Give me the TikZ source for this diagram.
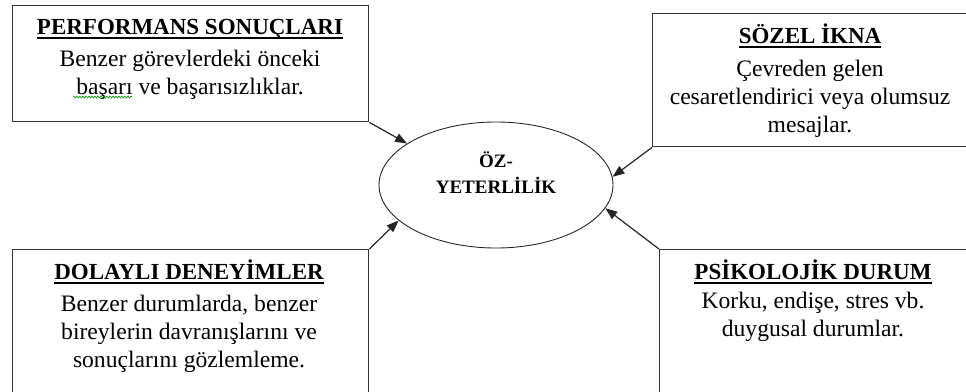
\documentclass[tikz,border=0pt]{standalone}
\usepackage{fontspec}
\setmainfont{Liberation Serif}
\usetikzlibrary{shapes.geometric,arrows.meta,decorations.pathmorphing}
\begin{document}
\begin{tikzpicture}[x=1pt,y=-1pt,
  panel/.style={draw=black!80,line width=1.4pt,anchor=north west,inner sep=0pt},
  heading/.style={font=\fontsize{23}{26}\selectfont\bfseries,inner sep=0pt,anchor=base},
  body/.style={font=\fontsize{23.6}{28}\selectfont,inner sep=0pt,anchor=base,align=center},
  core/.style={ellipse,draw=black!85,line width=0.9pt,minimum width=234pt,minimum height=126pt,inner sep=0pt},
  coretext/.style={font=\fontsize{19}{26}\selectfont\bfseries,inner sep=0pt,anchor=base,align=center},
  feed/.style={-{Triangle[length=12pt,width=9pt]},line width=1.2pt,draw=black!85},
  rule/.style={line width=2pt},
  spell/.style={draw=green!55!black,line width=0.6pt,decorate,decoration={snake,amplitude=1pt,segment length=3pt}}]
\useasboundingbox (0,0) rectangle (966,391);

% four source panels
\node[panel,minimum width=356pt,minimum height=116pt] (b1) at (12,5) {};
\node[panel,minimum width=316pt,minimum height=133pt] (b2) at (652,13) {};
\node[panel,minimum width=356pt,minimum height=160pt] (b3) at (12,249) {};
\node[panel,minimum width=310pt,minimum height=160pt] (b4) at (659,249) {};

% central ellipse (multi-line text nodes sit on the baseline of their last line)
\node[core] (ell) at (496,185) {};
\node[coretext] (ellt) at (496,193) {ÖZ-\\YETERLİLİK};

% panel headings and descriptions
\node[heading] (t1) at (190,34) {PERFORMANS SONUÇLARI};
\node[body] (d1) at (190,94) {Benzer görevlerdeki önceki\\başarı ve başarısızlıklar.};

\node[heading] (t2) at (810,43) {SÖZEL İKNA};
\node[body] (d2) at (810,132) {Çevreden gelen\\cesaretlendirici veya olumsuz\\mesajlar.};

\node[heading] (t3) at (189,279) {DOLAYLI DENEYİMLER};
\node[body] (d3) at (189,367) {Benzer durumlarda, benzer\\bireylerin davranışlarını ve\\sonuçlarını gözlemleme.};

\node[heading] (t4) at (813,279) {PSİKOLOJİK DURUM};
\node[body] (d4) at (813,336) {Korku, endişe, stres vb.\\duygusal durumlar.};

% heading underlines
\foreach \t in {t1,t2,t3,t4}
  \draw[rule] ([yshift=-4pt]\t.base west) -- ([yshift=-4pt]\t.base east);

% spell-check mark
\draw[spell] (73,97) -- (132,97);

% influences on the ellipse
\draw[feed] (b1.south east) -- (ell.155);
\draw[feed] (b2.south west) -- (ell.4);
\draw[feed] (b3.north east) -- (ell.200);
\draw[feed] (b4.north west) -- (ell.348);
\end{tikzpicture}
\end{document}
